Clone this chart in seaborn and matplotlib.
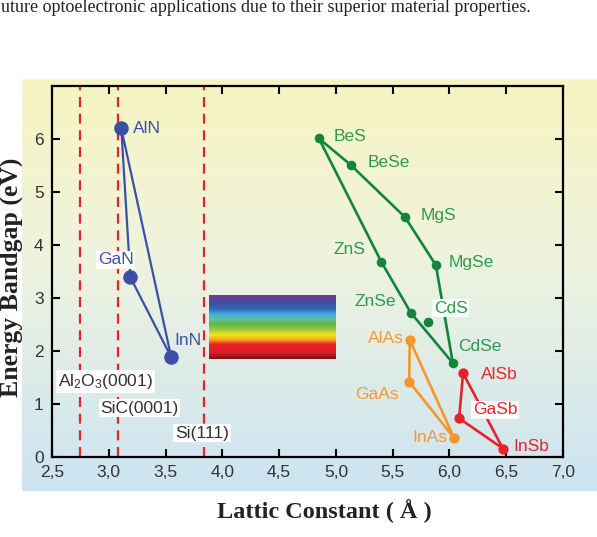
import numpy as np
import pandas as pd
import seaborn as sns
import matplotlib.pyplot as plt
from matplotlib.colors import LinearSegmentedColormap

# --- data (lattice constant in A, bandgap in eV) ---
nitride_names = ["AlN", "GaN", "InN"]
nitride_a = [3.11, 3.19, 3.55]
nitride_eg = [6.20, 3.39, 1.88]

# II-VI loop, drawn in this order and closed back to BeS
ii_vi_names = ["BeS", "BeSe", "MgS", "MgSe", "CdSe", "ZnSe", "ZnS"]
ii_vi_a = [4.85, 5.13, 5.61, 5.88, 6.03, 5.66, 5.40]
ii_vi_eg = [6.01, 5.51, 4.52, 3.62, 1.77, 2.72, 3.68]
cds_a = [5.81]
cds_eg = [2.55]

arsenide_names = ["AlAs", "GaAs", "InAs"]
arsenide_a = [5.65, 5.645, 6.04]
arsenide_eg = [2.21, 1.42, 0.36]

antimonide_names = ["AlSb", "GaSb", "InSb"]
antimonide_a = [6.12, 6.085, 6.47]
antimonide_eg = [1.58, 0.73, 0.16]

substrate_names = ["Al$_2$O$_3$(0001)", "SiC(0001)", "Si(111)"]
substrate_a = [2.75, 3.08, 3.84]

visible_a = [3.88, 4.99]
visible_eg = [1.85, 3.04]

xticks = [2.5, 3.0, 3.5, 4.0, 4.5, 5.0, 5.5, 6.0, 6.5, 7.0]
xtick_labels = ["2,5", "3,0", "3,5", "4,0", "4,5", "5,0", "5,5", "6,0", "6,5", "7,0"]
yticks = [0, 1, 2, 3, 4, 5, 6]
ytick_labels = ["0", "1", "2", "3", "4", "5", "6"]

# label anchor positions (data coords)
labels = [
    ("AlN", 3.21, 6.20, "left", "blue", False),
    ("GaN", 3.06, 3.72, "center", "blue", True),
    ("InN", 3.70, 2.19, "center", "blue", False),
    ("BeS", 4.98, 6.04, "left", "green", False),
    ("BeSe", 5.28, 5.55, "left", "green", False),
    ("MgS", 5.75, 4.55, "left", "green", False),
    ("MgSe", 5.99, 3.66, "left", "green", False),
    ("ZnS", 5.12, 3.91, "center", "green", False),
    ("ZnSe", 5.35, 2.93, "center", "green", False),
    ("CdS", 6.01, 2.81, "center", "green", True),
    ("CdSe", 6.27, 2.09, "center", "green", False),
    ("AlAs", 5.44, 2.24, "center", "orange", False),
    ("GaAs", 5.36, 1.18, "center", "orange", False),
    ("InAs", 5.83, 0.37, "center", "orange", False),
    ("AlSb", 6.44, 1.55, "center", "red", False),
    ("GaSb", 6.40, 0.89, "center", "red", True),
    ("InSb", 6.72, 0.19, "center", "red", False),
]
substrate_label_pos = [(2.97, 1.42), (3.27, 0.92), (3.82, 0.45)]

colors = {
    "blue": "#3b4fa6",
    "green": "#13843c",
    "orange": "#f5962b",
    "red": "#e8222b",
}
label_colors = {
    "blue": "#3f52aa",
    "green": "#2e9a4d",
    "orange": "#f39a35",
    "red": "#e8262e",
}

sns.set_theme(style="ticks")
plt.rcParams["font.family"] = ["Liberation Sans", "DejaVu Sans"]
plt.rcParams["mathtext.fontset"] = "custom"
plt.rcParams["mathtext.rm"] = "Liberation Sans"
plt.rcParams["mathtext.it"] = "Liberation Sans:italic"

fig = plt.figure(figsize=(5.97, 5.37), dpi=100)

# background gradient panel behind the plot
bg = fig.add_axes([0.0369, 0.0857, 0.963, 0.767], zorder=0)
bg_cmap = LinearSegmentedColormap.from_list(
    "bg", [(0, "#f8f5c2"), (0.45, "#eef3df"), (1, "#cce4f2")])
bg.imshow(np.linspace(0, 1, 256).reshape(-1, 1), cmap=bg_cmap, aspect="auto",
          extent=[0, 1, 0, 1])
bg.axis("off")

ax = fig.add_axes([0.0871, 0.149, 0.856, 0.691], zorder=1)
ax.patch.set_alpha(0)

# substrate lines
for a in substrate_a:
    ax.axvline(a, color="#e8222b", lw=1.6, ls=(0, (4.5, 3)), zorder=1)

# visible spectrum block
spec_cmap = LinearSegmentedColormap.from_list("spec", [
    (0.0, "#7a3895"), (0.12, "#3f4ea4"), (0.22, "#3268b3"), (0.30, "#3cb3e4"),
    (0.38, "#62bf9a"), (0.45, "#5ab847"), (0.55, "#a8cc38"), (0.62, "#f5e61b"),
    (0.70, "#f6a51f"), (0.77, "#ea2228"), (0.90, "#d81e26"), (1.0, "#7c1416")])
ax.imshow(np.linspace(0, 1, 256).reshape(-1, 1), cmap=spec_cmap, aspect="auto",
          extent=[visible_a[0], visible_a[1], visible_eg[0], visible_eg[1]], zorder=2)

# groups: lines (closed) + markers
groups = [
    (nitride_a, nitride_eg, "blue", 1.6, 110),
    (ii_vi_a, ii_vi_eg, "green", 1.9, 48),
    (arsenide_a, arsenide_eg, "orange", 1.9, 55),
    (antimonide_a, antimonide_eg, "red", 1.9, 55),
]
for xs, ys, c, lw, s in groups:
    df = pd.DataFrame({"a": list(xs) + [xs[0]], "eg": list(ys) + [ys[0]]})
    sns.lineplot(data=df, x="a", y="eg", sort=False, estimator=None,
                 color=colors[c], lw=lw, ax=ax, zorder=3)
    sns.scatterplot(x=xs, y=ys, color=colors[c], s=s, linewidth=0, ax=ax, zorder=4)
sns.scatterplot(x=cds_a, y=cds_eg, color=colors["green"], s=48, linewidth=0,
                ax=ax, zorder=4)

for name, x, y, ha, c, boxed in labels:
    kw = {}
    if boxed:
        kw["bbox"] = dict(boxstyle="square,pad=0.1", fc="white", ec="none")
    ax.text(x, y, name, ha=ha, va="center", fontsize=12.5,
            color=label_colors[c], zorder=5, **kw)

for name, (x, y) in zip(substrate_names, substrate_label_pos):
    ax.text(x, y, name, ha="center", va="center", fontsize=12.5, color="#333333",
            bbox=dict(boxstyle="square,pad=0.1", fc="white", ec="none"), zorder=5)

ax.set_xlim(2.5, 7.0)
ax.set_ylim(0, 7.0)
ax.set_xticks(xticks)
ax.set_xticklabels(xtick_labels)
ax.set_yticks(yticks)
ax.set_yticklabels(ytick_labels)
ax.tick_params(direction="in", top=True, right=True, length=6, width=1.5,
               labelsize=12.5, labelcolor="#333333", color="black")
ax.tick_params(axis="x", pad=6)
ax.tick_params(axis="y", pad=6)
ax.tick_params(axis="x", which="both", labeltop=False)
ax.tick_params(axis="y", which="both", labelright=False)
for sp in ax.spines.values():
    sp.set_visible(True)
    sp.set_color("black")
    sp.set_linewidth(1.6)
ax.set_xlabel("")
ax.set_ylabel("")

serif = ["Liberation Serif", "DejaVu Serif"]
fig.text(324 / 597, 1 - 511 / 537, "Lattic Constant ( Å )", ha="center", va="center",
         fontsize=17.5, fontweight="bold", family=serif, color="#222222")
fig.text(11.5 / 597, 1 - 277 / 537, "Energy Bandgap (eV)", ha="center", va="center",
         rotation=90, fontsize=18.5, fontweight="bold", family=serif, color="#222222")
fig.text(0.002, 1 - 12 / 537,
         "uture optoelectronic applications due to their superior material properties.",
         ha="left", va="baseline", fontsize=13, family=serif, color="#222222")

fig.savefig("out.png", dpi=100)
